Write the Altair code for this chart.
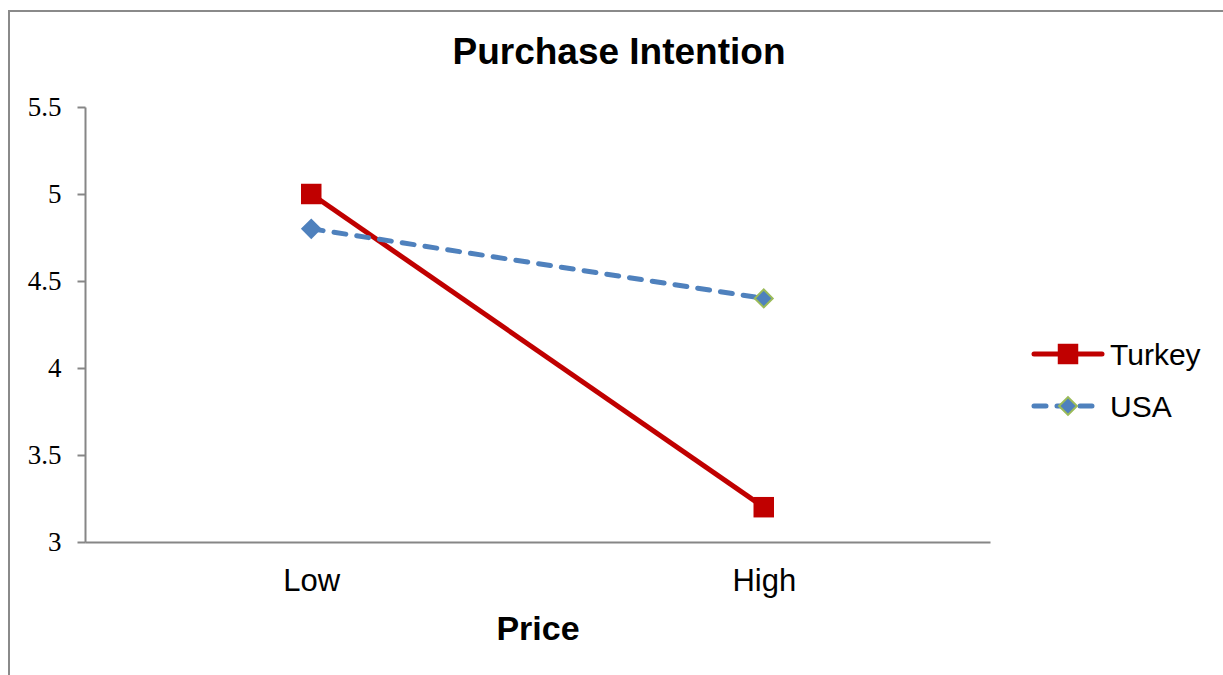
import altair as alt
import pandas as pd

# ---- data ----
prices = ["Low", "High"]
countries = ["Turkey", "USA"]
turkey_values = [5.0, 3.2]
usa_values = [4.8, 4.4]
y_ticks = [3, 3.5, 4, 4.5, 5, 5.5]
chart_title = "Purchase Intention"
x_title = "Price"

rows = []
for c, vals in zip(countries, [turkey_values, usa_values]):
    for p, v in zip(prices, vals):
        rows.append({"Country": c, "Price": p, "Value": v})
df = pd.DataFrame(rows)
legend_df = pd.DataFrame({"Country": countries})
title_df = pd.DataFrame({"t": [chart_title]})

RED = "#C00000"
BLUE = "#4F81BD"
GREEN = "#9BBB59"
GRAY = "#868686"

x = alt.X(
    "Price:N",
    sort=prices,
    scale=alt.Scale(type="point", padding=0.5),
    axis=alt.Axis(
        title=x_title, ticks=False, labelAngle=0,
        labelFont="Liberation Sans", labelFontSize=31, labelColor="black",
        labelPadding=48, labelBaseline="alphabetic",
        titleFont="Liberation Sans", titleFontSize=34, titleFontWeight="bold",
        titleColor="black", titleY=97, titleBaseline="alphabetic",
        domainColor=GRAY, domainWidth=2,
    ),
)
y = alt.Y(
    "Value:Q",
    scale=alt.Scale(domain=[3, 5.5], nice=False, zero=False),
    axis=alt.Axis(
        values=y_ticks, title=None, grid=False, format="~g",
        tickSize=8, tickColor=GRAY, tickWidth=2,
        domainColor=GRAY, domainWidth=2,
        labelFont="Liberation Serif", labelFontSize=27, labelColor="black",
        labelPadding=16,
    ),
)

base = alt.Chart(df)

border = alt.Chart(title_df).mark_rect(filled=False, stroke="#8a8a8a", strokeWidth=2).encode(
    x=alt.value(-76), x2=alt.value(1400), y=alt.value(-96), y2=alt.value(800)
)

turkey_line = base.transform_filter(alt.datum.Country == "Turkey").mark_line(
    color=RED, strokeWidth=5
).encode(x=x, y=y)
usa_line = base.transform_filter(alt.datum.Country == "USA").mark_line(
    color=BLUE, strokeWidth=5, strokeDash=[12, 11], strokeCap="round"
).encode(x=x, y=y)
turkey_pts = base.transform_filter(alt.datum.Country == "Turkey").mark_point(
    shape="square", size=420, filled=True, fill=RED, opacity=1
).encode(x=x, y=y)
usa_pts = base.transform_filter(alt.datum.Country == "USA").mark_point(
    shape="diamond", size=320, filled=True, fill=BLUE, opacity=1, strokeWidth=2
).encode(
    x=x, y=y,
    stroke=alt.condition(alt.datum.Price == "High", alt.value(GREEN), alt.value(BLUE)),
)

# ---- legend ----
leg = alt.Chart(legend_df)
leg_t_line = leg.transform_filter(alt.datum.Country == "Turkey").mark_rule(
    color=RED, strokeWidth=5, strokeCap="round"
).encode(x=alt.value(949), x2=alt.value(1017), y=alt.value(247))
leg_t_pt = leg.transform_filter(alt.datum.Country == "Turkey").mark_point(
    shape="square", size=420, filled=True, fill=RED, opacity=1
).encode(x=alt.value(983), y=alt.value(247))
leg_t_txt = leg.transform_filter(alt.datum.Country == "Turkey").mark_text(
    font="Liberation Sans", fontSize=30, align="left", baseline="alphabetic", color="black"
).encode(x=alt.value(1025), y=alt.value(258), text="Country:N")

leg_u_line = leg.transform_filter(alt.datum.Country == "USA").mark_rule(
    color=BLUE, strokeWidth=5, strokeDash=[12, 11], strokeCap="round"
).encode(x=alt.value(949), x2=alt.value(1017), y=alt.value(299))
leg_u_pt = leg.transform_filter(alt.datum.Country == "USA").mark_point(
    shape="diamond", size=320, filled=True, fill=BLUE, stroke=GREEN, strokeWidth=2, opacity=1
).encode(x=alt.value(983), y=alt.value(299))
leg_u_txt = leg.transform_filter(alt.datum.Country == "USA").mark_text(
    font="Liberation Sans", fontSize=30, align="left", baseline="alphabetic", color="black"
).encode(x=alt.value(1025), y=alt.value(310), text="Country:N")

title = alt.Chart(title_df).mark_text(
    font="Liberation Sans", fontSize=37, fontWeight="bold", align="center",
    baseline="alphabetic", color="black"
).encode(x=alt.value(534), y=alt.value(-43), text="t:N")

chart = alt.layer(
    border, turkey_line, usa_line, turkey_pts, usa_pts,
    leg_t_line, leg_t_pt, leg_t_txt, leg_u_line, leg_u_pt, leg_u_txt, title,
).properties(
    width=905, height=435,
    autosize=alt.AutoSizeParams(type="none"),
    padding={"left": 85, "top": 107, "right": 233, "bottom": 133},
    background="white",
).configure_view(strokeWidth=0)

chart.save("out.html", embed_options={"renderer": "svg", "actions": False})
